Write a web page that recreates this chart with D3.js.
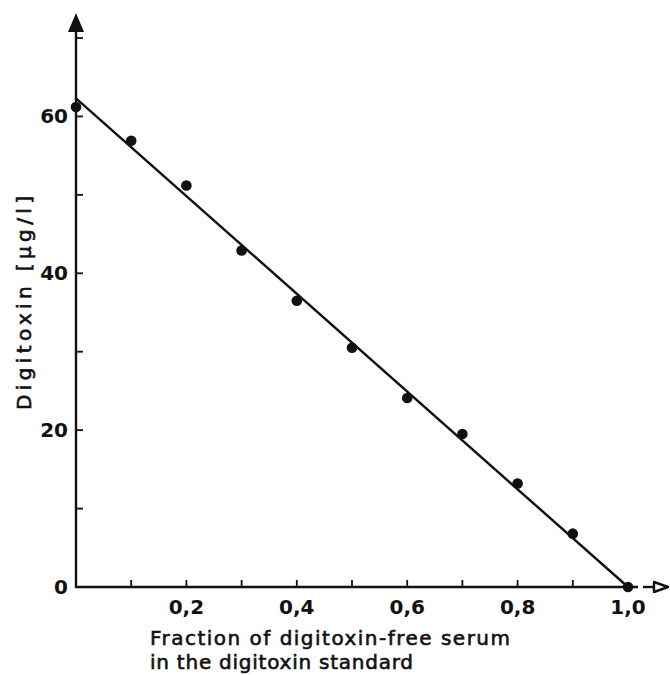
<!DOCTYPE html>
<html>
<head>
<meta charset="utf-8">
<script src="https://cdn.jsdelivr.net/npm/d3@7"></script>
<style>
  html, body { margin: 0; padding: 0; background: #fff; }
  svg { display: block; }
  text { font-family: "DejaVu Sans", "Liberation Sans", sans-serif; fill: #111; }
</style>
</head>
<body>
<svg id="chart" width="670" height="675"></svg>
<script>
// Fraction of digitoxin-free serum in the standard vs. measured digitoxin
const fractions = [0, 0.1, 0.2, 0.3, 0.4, 0.5, 0.6, 0.7, 0.8, 0.9, 1.0];
const digitoxin = [61.2, 56.9, 51.2, 42.9, 36.5, 30.5, 24.1, 19.5, 13.2, 6.8, 0];
// regression line: value at fraction 0 and at fraction 1
const fitLine = [[0, 62.3], [1.0, 0]];

const xTicks = [0.1, 0.2, 0.3, 0.4, 0.5, 0.6, 0.7, 0.8, 0.9];
const xLabels = [0.2, 0.4, 0.6, 0.8, 1.0];
const yTicks = [10, 20, 30, 40, 50, 60, 70];
const yLabels = [0, 20, 40, 60];

const svg = d3.select("#chart");
const x = d3.scaleLinear().domain([0, 1]).range([76, 628]);
const y = d3.scaleLinear().domain([0, 70]).range([587, 38]);
const ink = "#111";

// y axis with filled arrowhead
svg.append("line")
  .attr("x1", x(0)).attr("x2", x(0))
  .attr("y1", y(0) + 1).attr("y2", 28)
  .attr("stroke", ink).attr("stroke-width", 2.4);
svg.append("path")
  .attr("d", `M${x(0)},13 L${x(0) - 8},32 L${x(0) + 8},32 Z`)
  .attr("fill", ink);

// x axis, dashed tail and open arrowhead
svg.append("line")
  .attr("x1", x(0) - 1).attr("x2", 638)
  .attr("y1", y(0)).attr("y2", y(0))
  .attr("stroke", ink).attr("stroke-width", 2.4);
svg.append("line")
  .attr("x1", 643).attr("x2", 653)
  .attr("y1", y(0)).attr("y2", y(0))
  .attr("stroke", ink).attr("stroke-width", 2.4);
svg.append("path")
  .attr("d", `M654,${y(0) - 5} L668,${y(0)} L654,${y(0) + 5} Z`)
  .attr("fill", "#fff").attr("stroke", ink).attr("stroke-width", 2.4)
  .attr("stroke-linejoin", "round");

// inward ticks
svg.append("g").selectAll("line").data(xTicks).join("line")
  .attr("x1", d => x(d)).attr("x2", d => x(d))
  .attr("y1", y(0)).attr("y2", y(0) - 7)
  .attr("stroke", ink).attr("stroke-width", 1.8);
svg.append("g").selectAll("line").data(yTicks).join("line")
  .attr("x1", x(0)).attr("x2", x(0) + 7)
  .attr("y1", d => y(d)).attr("y2", d => y(d))
  .attr("stroke", ink).attr("stroke-width", 1.8);

// tick labels
const fmt = d => d3.format(".1f")(d).replace(".", ",");
svg.append("g").selectAll("text").data(xLabels).join("text")
  .attr("x", d => x(d)).attr("y", 614)
  .attr("text-anchor", "middle")
  .attr("font-size", 20).attr("font-weight", "bold")
  .text(fmt);
svg.append("g").selectAll("text").data(yLabels).join("text")
  .attr("x", 68).attr("y", d => y(d) + 7)
  .attr("text-anchor", "end")
  .attr("font-size", 20).attr("font-weight", "bold")
  .text(d => d);

// axis titles, drawn with a light outline for a pen-lettered weight
const titleStyle = sel => sel
  .attr("font-size", 20)
  .attr("stroke", ink).attr("stroke-width", 0.6)
  .attr("lengthAdjust", "spacing");
svg.append("text")
  .attr("transform", "translate(31,303) rotate(-90)")
  .attr("text-anchor", "middle")
  .call(titleStyle)
  .attr("textLength", 214)
  .text("Digitoxin [µg/l]");
svg.append("text")
  .attr("x", 150).attr("y", 645)
  .call(titleStyle)
  .attr("textLength", 360)
  .text("Fraction of digitoxin-free serum");
svg.append("text")
  .attr("x", 150).attr("y", 669)
  .call(titleStyle)
  .attr("textLength", 263)
  .text("in the digitoxin standard");

// regression line
svg.append("path")
  .datum(fitLine)
  .attr("d", d3.line().x(d => x(d[0])).y(d => y(d[1])))
  .attr("fill", "none").attr("stroke", ink).attr("stroke-width", 2.4);

// measured points
svg.append("g").selectAll("circle").data(fractions).join("circle")
  .attr("cx", d => x(d)).attr("cy", (d, i) => y(digitoxin[i]))
  .attr("r", 5.3)
  .attr("fill", ink);
</script>
</body>
</html>
